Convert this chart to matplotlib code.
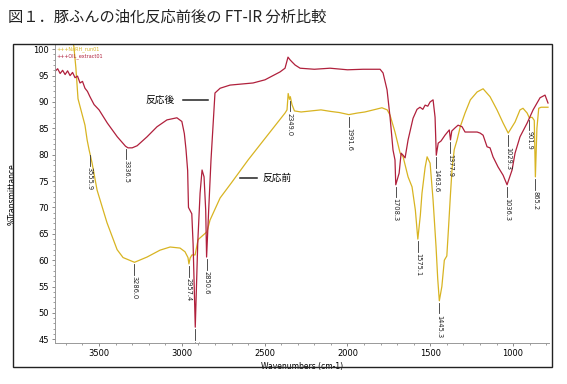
import numpy as np
import matplotlib as mpl

mpl.use("Agg")
import matplotlib.pyplot as plt  # noqa
from matplotlib.patches import Rectangle  # noqa

plt.rcParams['font.family'] = ['DejaVu Sans', 'Noto Sans CJK JP']

# after reaction (OIL_extract01) - wavenumber / %T
after_wn = [3766, 3750, 3735, 3720, 3705, 3690, 3675, 3660, 3645, 3630, 3615, 3600,
            3585, 3570, 3555, 3530, 3500, 3450, 3390, 3340, 3325, 3300, 3270, 3210,
            3150, 3090, 3030, 3000, 2985, 2975, 2965, 2960, 2940, 2932, 2919, 2904,
            2890, 2878, 2866, 2856, 2850.6, 2838, 2824, 2800, 2769, 2709, 2570, 2498,
            2407, 2377, 2359, 2347, 2335, 2316, 2286, 2200, 2105, 2000, 1906, 1803,
            1785, 1761, 1743, 1725, 1713, 1708.3, 1688, 1676, 1664, 1652, 1634, 1604,
            1580, 1562, 1545, 1531, 1515, 1501, 1483, 1471, 1463.6, 1452, 1435, 1411,
            1385, 1377.9, 1370, 1350, 1332, 1308, 1290, 1260, 1217, 1199, 1181, 1157,
            1139, 1121, 1091, 1060, 1036.3, 1006, 988, 958, 915, 879, 837, 807, 789]
after_t = [95.8, 96.3, 95.4, 96.0, 95.2, 95.9, 95.0, 95.6, 94.6, 94.9, 93.6, 93.9,
           92.6, 92.0, 91.0, 89.5, 88.5, 86.0, 83.4, 81.6, 81.3, 81.3, 81.7, 83.4,
           85.3, 86.6, 87.0, 86.3, 84.0, 81.0, 77.0, 70.0, 68.8, 63.0, 47.3, 63.3,
           72.7, 77.1, 75.8, 69.5, 60.6, 69.5, 79.0, 91.7, 92.6, 93.2, 93.6, 94.2,
           95.7, 96.4, 98.5, 98.0, 97.6, 97.0, 96.4, 96.2, 96.4, 96.1, 96.2, 96.2,
           95.5, 92.3, 87.2, 80.9, 79.0, 74.3, 76.5, 80.3, 79.9, 79.4, 82.8, 86.9,
           88.6, 89.0, 88.6, 89.4, 89.2, 90.0, 90.4, 87.1, 79.9, 82.2, 82.6, 83.7,
           84.7, 82.8, 84.5, 85.1, 85.6, 85.3, 84.3, 84.3, 84.3, 84.1, 83.7, 81.5,
           81.3, 79.6, 77.7, 76.1, 74.3, 77.1, 80.3, 83.4, 86.0, 88.5, 90.8, 91.3, 89.8]

# before reaction (raw) - wavenumber / %T
before_wn = [3766, 3660, 3652, 3640, 3627, 3585, 3572, 3560, 3542, 3512, 3452, 3391,
             3355, 3286, 3210, 3132, 3071, 3011, 2981, 2963, 2957.4, 2950, 2939, 2920,
             2902, 2848, 2830, 2769, 2700, 2600, 2500, 2377, 2365, 2358, 2350, 2345,
             2335, 2320, 2280, 2160, 2100, 2050, 1991.6, 1940, 1895, 1830, 1792, 1760,
             1743, 1713, 1682, 1664, 1634, 1610, 1590, 1575.1, 1560, 1550, 1531, 1519,
             1501, 1483, 1465, 1455, 1445.3, 1430, 1415, 1400, 1390, 1378, 1368, 1355,
             1338, 1319, 1290, 1258, 1217, 1181, 1139, 1097, 1060, 1029.3, 988, 958,
             940, 915, 901.9, 885, 872, 865.2, 856, 845, 831, 789]
before_t = [102.0, 102.0, 100.5, 96.5, 90.6, 85.6, 82.8, 80.9, 78.4, 73.3, 67.1, 62.0,
            60.5, 59.6, 60.6, 61.9, 62.5, 62.3, 61.6, 60.5, 59.3, 60.4, 61.0, 61.0,
            63.9, 65.4, 67.6, 71.8, 74.7, 79.0, 83.0, 87.9, 88.5, 91.6, 90.5, 91.0,
            89.5, 88.3, 88.1, 88.5, 88.2, 88.0, 87.6, 87.9, 88.1, 88.6, 88.9, 88.5,
            87.5, 84.3, 80.3, 79.6, 75.8, 73.9, 69.5, 64.0, 68.5, 72.7, 77.6, 79.6,
            78.4, 71.4, 62.5, 56.5, 52.3, 55.0, 60.0, 60.8, 66.0, 72.5, 77.5, 81.0,
            82.8, 85.3, 87.9, 90.4, 91.9, 92.5, 91.0, 88.5, 86.0, 84.1, 86.2, 88.5,
            88.8, 87.9, 87.0, 87.1, 86.5, 75.8, 85.0, 88.8, 89.0, 89.0]

after_peaks = [3336.5, 2919.0, 2850.6, 1708.3, 1463.6, 1377.9, 1036.3]
before_peaks = [3555.9, 3286.0, 2957.4, 2349.0, 1991.6, 1575.1, 1445.3,
                1029.3, 901.9, 865.2]

c_after = '#b0203c'
c_before = '#d8b422'

fig = plt.figure(figsize=(5.67, 3.84), dpi=100)
ax = fig.add_axes([55/567, 1-343/384, 494/567, 298/384])

ax.plot(before_wn, before_t, color=c_before, lw=0.9)
ax.plot(after_wn, after_t, color=c_after, lw=0.9)


def label_peaks(peaks, wn, t):
    wn_a = np.array(wn)[::-1]
    t_a = np.array(t)[::-1]
    for p in peaks:
        v = np.interp(p, wn_a, t_a)
        ax.plot([p, p], [v - 0.4, v - 2.4], color='#333333', lw=0.6)
        ax.text(p, v - 2.6, f'{p:.1f}', rotation=270, ha='center', va='top',
                fontsize=4.8, color='#222222', clip_on=True)


label_peaks(after_peaks, after_wn, after_t)
label_peaks(before_peaks, before_wn, before_t)

# curve names
ax.plot([2993, 2842], [90.4, 90.4], color='#222222', lw=1.1)
ax.text(3041, 90.4, '反応後', ha='right', va='center', fontsize=7,
        family=['Noto Sans CJK JP'])
ax.plot([2648, 2546], [75.6, 75.6], color='#222222', lw=1.1)
ax.text(2516, 75.6, '反応前', ha='left', va='center', fontsize=7,
        family=['Noto Sans CJK JP'])

ax.text(3755, 100.1, '+++NaRH_run01', color=c_before, fontsize=3.5, va='center')
ax.text(3755, 98.6, '+++OIL_extract01', color=c_after, fontsize=3.5, va='center')

ax.set_xlim(3766, 783)
ax.set_ylim(44.3, 100.8)
ax.set_xticks([3500, 3000, 2500, 2000, 1500, 1000])
ax.set_yticks([45, 50, 55, 60, 65, 70, 75, 80, 85, 90, 95, 100])
ax.xaxis.set_minor_locator(mpl.ticker.MultipleLocator(100))
ax.yaxis.set_minor_locator(mpl.ticker.MultipleLocator(1))
ax.tick_params(labelsize=6, length=2.5, width=0.6, color='#777777', pad=2)
ax.tick_params(which='minor', length=1.3, width=0.5, color='#777777')
for s in ['top', 'right']:
    ax.spines[s].set_visible(False)
for s in ['left', 'bottom']:
    ax.spines[s].set_color('#999999')
    ax.spines[s].set_linewidth(0.7)

ax.set_xlabel('Wavenumbers (cm-1)', fontsize=5.5)
ax.xaxis.set_label_coords(0.5, -0.064)
ax.set_ylabel('%Transmittance', fontsize=5.5)
ax.yaxis.set_label_coords(-0.077, 0.5)

fig.patches.append(Rectangle((13/567, 1-367/384), 539/567, 323/384,
                             transform=fig.transFigure, fill=False,
                             lw=1.0, ec='#222222'))

fig.text(8/567, 1-17/384, '図１．豚ふんの油化反応前後の FT-IR 分析比較',
         fontsize=11, va='center', ha='left', color='#222222',
         family=['Noto Sans CJK JP'])

fig.savefig('out.png', dpi=100)
